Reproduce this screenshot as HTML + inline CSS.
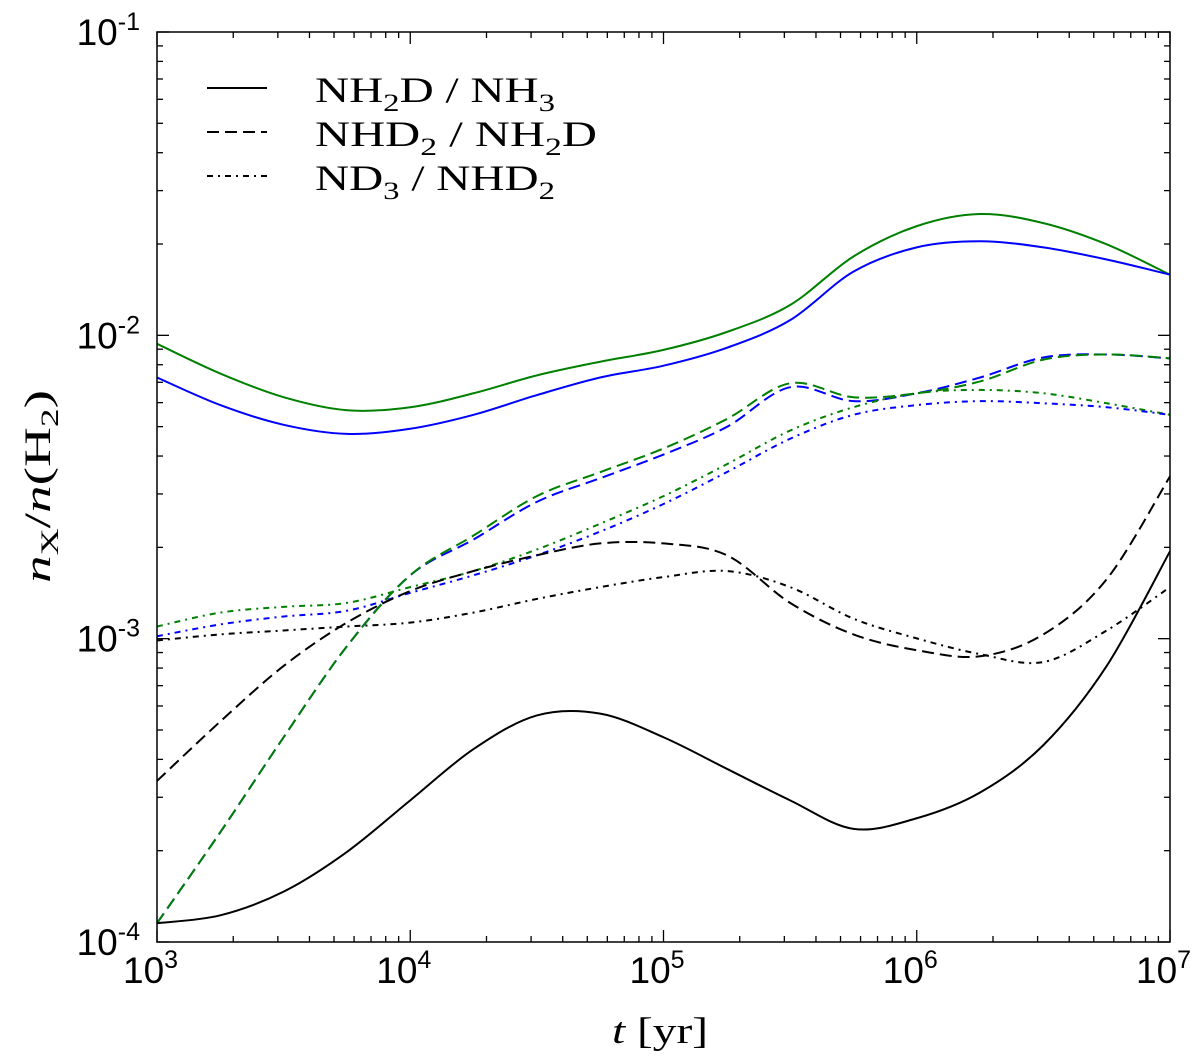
<!DOCTYPE html>
<html><head><meta charset="utf-8"><style>
body{margin:0;background:#fff}
svg text{font-family:"Liberation Serif",serif}
</style></head><body>
<svg id="chart" width="1200" height="1056" xmlns="http://www.w3.org/2000/svg">
<g id="plot"></g>
<rect x="157" y="32" width="1013" height="910" fill="none" stroke="#000" stroke-width="1.5"/>
<g id="axes"></g>
<g>
<line x1="207" y1="88" x2="267" y2="88" stroke="#000" stroke-width="2"/>
<line x1="207" y1="132" x2="267" y2="132" stroke="#000" stroke-width="2" stroke-dasharray="12,6"/>
<line x1="207" y1="176" x2="267" y2="176" stroke="#000" stroke-width="2" stroke-dasharray="6,5,2,5"/>
<text x="315" y="102" font-size="36" textLength="240" lengthAdjust="spacingAndGlyphs">NH<tspan font-size="25" dy="9">2</tspan><tspan dy="-9">D / NH</tspan><tspan font-size="25" dy="9">3</tspan></text>
<text x="315" y="146" font-size="36" textLength="282" lengthAdjust="spacingAndGlyphs">NHD<tspan font-size="25" dy="9">2</tspan><tspan dy="-9"> / NH</tspan><tspan font-size="25" dy="9">2</tspan><tspan dy="-9">D</tspan></text>
<text x="315" y="190" font-size="36" textLength="240" lengthAdjust="spacingAndGlyphs">ND<tspan font-size="25" dy="9">3</tspan><tspan dy="-9"> / NHD</tspan><tspan font-size="25" dy="9">2</tspan></text>
</g>
<text x="612" y="1043" font-size="37" textLength="96" lengthAdjust="spacingAndGlyphs"><tspan font-style="italic">t</tspan> [yr]</text>
<text transform="translate(50,583) rotate(-90)" font-size="37" textLength="193" lengthAdjust="spacingAndGlyphs"><tspan font-style="italic">n</tspan><tspan font-size="25" dy="8">X</tspan><tspan dy="-8">/</tspan><tspan font-style="italic">n</tspan>(H<tspan font-size="25" dy="8">2</tspan><tspan dy="-8">)</tspan></text>
</svg>
<script>
const logT = [3,3.25,3.5,3.75,4,4.25,4.5,4.75,5,5.25,5.5,5.75,6,6.25,6.5,6.75,7];
const blackSolid = [-3.938,-3.912,-3.834,-3.703,-3.533,-3.364,-3.253,-3.247,-3.325,-3.429,-3.533,-3.627,-3.592,-3.507,-3.351,-3.090,-2.712];
const blackDashed = [-3.469,-3.273,-3.090,-2.947,-2.843,-2.777,-2.725,-2.686,-2.686,-2.725,-2.882,-2.986,-3.038,-3.058,-2.986,-2.804,-2.465];
const blackDashDot = [-3.006,-2.986,-2.973,-2.960,-2.947,-2.914,-2.869,-2.830,-2.797,-2.777,-2.830,-2.934,-2.999,-3.051,-3.077,-2.973,-2.830];
const greenSolid = [-2.028,-2.126,-2.204,-2.247,-2.237,-2.191,-2.132,-2.087,-2.048,-1.989,-1.900,-1.740,-1.640,-1.600,-1.630,-1.700,-1.800];
const blueSolid = [-2.139,-2.230,-2.295,-2.325,-2.308,-2.262,-2.197,-2.139,-2.100,-2.041,-1.950,-1.790,-1.710,-1.690,-1.710,-1.750,-1.800];
const greenDashed = [-3.938,-3.638,-3.325,-3.025,-2.791,-2.660,-2.530,-2.451,-2.373,-2.276,-2.158,-2.204,-2.191,-2.152,-2.080,-2.063,-2.076];
const blueDashed = [-3.938,-3.638,-3.325,-3.025,-2.791,-2.673,-2.549,-2.471,-2.393,-2.302,-2.171,-2.217,-2.191,-2.139,-2.073,-2.063,-2.076];
const greenDashDot = [-2.960,-2.914,-2.895,-2.882,-2.830,-2.777,-2.706,-2.621,-2.530,-2.425,-2.314,-2.237,-2.191,-2.180,-2.191,-2.224,-2.262];
const blueDashDot = [-2.992,-2.953,-2.927,-2.908,-2.849,-2.791,-2.725,-2.647,-2.556,-2.451,-2.341,-2.262,-2.230,-2.217,-2.224,-2.237,-2.262];
const xTickExp = [3,4,5,6,7];
const yTickExp = [-4,-3,-2,-1];

const X0=157,X1=1170,Y0=942,Y1=32;
const xs = v => X0+(v-3)/4*(X1-X0);
const ys = v => Y0-(v+4)/3*(Y0-Y1);
const NS="http://www.w3.org/2000/svg";
const plot=document.getElementById('plot'), axes=document.getElementById('axes');

function pathFor(arr){
  const p=arr.map((v,i)=>[xs(logT[i]),ys(v)]);
  let d=`M${p[0][0]},${p[0][1]}`;
  for(let i=0;i<p.length-1;i++){
    const a=p[Math.max(0,i-1)],b=p[i],c=p[i+1],e=p[Math.min(p.length-1,i+2)];
    d+=` C${b[0]+(c[0]-a[0])/6},${b[1]+(c[1]-a[1])/6} ${c[0]-(e[0]-b[0])/6},${c[1]-(e[1]-b[1])/6} ${c[0]},${c[1]}`;
  }
  return d;
}
const series=[
 ['green-solid-line',greenSolid,'#008000',''],
 ['blue-solid-line',blueSolid,'#0000ff',''],
 ['blue-dashed-line',blueDashed,'#0000ff','12,6'],
 ['green-dashed-line',greenDashed,'#008000','12,6'],
 ['green-dashdot-line',greenDashDot,'#008000','6,5,2,5'],
 ['blue-dashdot-line',blueDashDot,'#0000ff','6,5,2,5'],
 ['black-solid-line',blackSolid,'#000',''],
 ['black-dashed-line',blackDashed,'#000','12,6'],
 ['black-dashdot-line',blackDashDot,'#000','6,5,2,5'],
];
series.forEach(s=>{
  const el=document.createElementNS(NS,'path');
  
  
  el.setAttribute('d',pathFor(s[1]));
  el.setAttribute('fill','none');el.setAttribute('stroke',s[2]);el.setAttribute('stroke-width','2');
  if(s[3])el.setAttribute('stroke-dasharray',s[3]);
  plot.appendChild(el);
});
function line(x1,y1,x2,y2){const l=document.createElementNS(NS,'line');
  l.setAttribute('x1',x1);l.setAttribute('y1',y1);l.setAttribute('x2',x2);l.setAttribute('y2',y2);
  l.setAttribute('stroke','#000');l.setAttribute('stroke-width','1.3');
  
  
  axes.appendChild(l);}
function label(x,y,exp,anchor,name){const t=document.createElementNS(NS,'text');
  
  
  t.setAttribute('x',x);t.setAttribute('y',y);t.setAttribute('text-anchor',anchor);
  t.setAttribute('font-size','37');t.setAttribute('style','font-family:"Liberation Sans",sans-serif');
  t.innerHTML=`10<tspan font-size="25" dy="-15">${exp}</tspan>`;axes.appendChild(t);}
xTickExp.forEach(e=>{const x=xs(e);line(x,Y0,x,Y0-12);line(x,Y1,x,Y1+12);
  label(x-34,983,e,'start','x-tick-label');
  if(e<7)for(let k=2;k<10;k++){const xm=xs(e+Math.log10(k));line(xm,Y0,xm,Y0-6);line(xm,Y1,xm,Y1+6);}});
yTickExp.forEach(e=>{const y=ys(e);line(X0,y,X0+12,y);line(X1,y,X1-12,y);
  label(140,y+13,e,'end','y-tick-label');
  if(e<-1)for(let k=2;k<10;k++){const ym=ys(e+Math.log10(k));line(X0,ym,X0+6,ym);line(X1,ym,X1-6,ym);}});
</script>
</body></html>
